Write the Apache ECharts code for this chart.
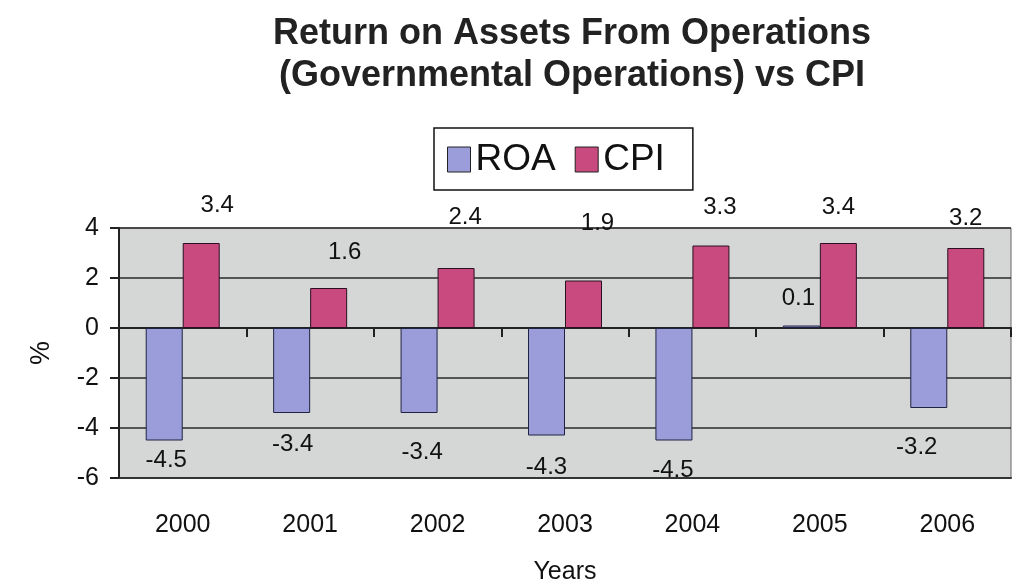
<!DOCTYPE html>
<html>
<head>
<meta charset="utf-8">
<script src="https://cdn.jsdelivr.net/npm/echarts@6/dist/echarts.min.js"></script>
<style>
  html, body { margin: 0; padding: 0; background: #fff; }
  #chart { width: 1019px; height: 586px; }
</style>
</head>
<body>
<div id="chart"></div>
<script>
const years = ['2000', '2001', '2002', '2003', '2004', '2005', '2006']
const roa = [-4.5, -3.4, -3.4, -4.3, -4.5, 0.1, -3.2]
const cpi = [3.4, 1.6, 2.4, 1.9, 3.3, 3.4, 3.2]

// label nudges, the labels were dragged around by hand in the original
const roaLabelPos = [
  { position: 'bottom', offset: [2, 8] },
  { position: 'bottom', offset: [1, 20] },
  { position: 'bottom', offset: [3, 28] },
  { position: 'bottom', offset: [0, 20] },
  { position: 'bottom', offset: [-1, 18] },
  { position: 'bottom', offset: [-3, -41] },
  { position: 'bottom', offset: [-12, 28] }
]
const cpiLabelPos = [
  { offset: [16, -26] },
  { offset: [16, -24] },
  { offset: [9, -39] },
  { offset: [14, -46] },
  { offset: [9, -27] },
  { offset: [0, -24] },
  { offset: [0, -18] }
]

const font = 'Liberation Sans, Arial, sans-serif'
const chart = echarts.init(document.getElementById('chart'))

chart.setOption({
  animation: false,
  textStyle: { fontFamily: font },
  title: {
    text: 'Return on Assets From Operations\n(Governmental Operations) vs CPI',
    left: 572,
    textAlign: 'center',
    top: 13,
    padding: 0,
    textStyle: {
      fontFamily: font,
      fontSize: 36,
      fontWeight: 'bold',
      lineHeight: 42,
      color: '#222'
    }
  },
  legend: {
    left: 434,
    top: 128,
    padding: [13, 28, 12, 13],
    borderColor: '#111',
    borderWidth: 1.5,
    itemWidth: 23,
    itemHeight: 25,
    itemGap: 19,
    icon: 'rect',
    textStyle: { fontSize: 37, lineHeight: 35, color: '#111' },
    itemStyle: { borderColor: '#222', borderWidth: 1 }
  },
  grid: {
    left: 119,
    right: 8,
    top: 228,
    bottom: 108,
    show: true,
    backgroundColor: '#d4d7d5',
    borderColor: '#666',
    borderWidth: 1
  },
  xAxis: [
    {
      type: 'category',
      data: years,
      position: 'top',
      axisLine: { onZero: true, lineStyle: { color: '#222', width: 2 } },
      axisTick: { show: true, inside: true, length: 9, lineStyle: { color: '#222', width: 2 } },
      axisLabel: { show: false }
    },
    {
      type: 'category',
      data: years,
      position: 'bottom',
      axisLine: { onZero: false, lineStyle: { color: '#333', width: 2 } },
      axisTick: { show: false },
      axisLabel: { margin: 35, fontSize: 25, color: '#111' },
      name: 'Years',
      nameLocation: 'middle',
      nameGap: 82,
      nameTextStyle: { fontSize: 25, color: '#111' }
    }
  ],
  yAxis: {
    type: 'value',
    min: -6,
    max: 4,
    interval: 2,
    axisLine: { show: true, lineStyle: { color: '#222', width: 2 } },
    axisTick: { show: true, length: 9, lineStyle: { color: '#222', width: 2 } },
    axisLabel: { margin: 20, fontSize: 25, color: '#111' },
    splitLine: { show: true, lineStyle: { color: '#2a2a2a', width: 1.5 } },
    name: '%',
    nameLocation: 'middle',
    nameRotate: 90,
    nameGap: 64,
    nameTextStyle: { fontSize: 27, color: '#111' }
  },
  series: [
    {
      name: 'ROA',
      type: 'bar',
      xAxisIndex: 0,
      barWidth: 37,
      barGap: '0%',
      itemStyle: { color: '#9a9dda', borderColor: '#1f2340', borderWidth: 1 },
      label: { show: true, distance: 0, fontSize: 24, lineHeight: 23, color: '#111' },
      data: roa.map((v, i) => ({ value: v, label: roaLabelPos[i] }))
    },
    {
      name: 'CPI',
      type: 'bar',
      xAxisIndex: 0,
      barWidth: 37,
      barGap: '0%',
      itemStyle: { color: '#c84a7e', borderColor: '#2a1020', borderWidth: 1 },
      label: { show: true, position: 'top', distance: 0, fontSize: 24, lineHeight: 23, color: '#111' },
      data: cpi.map((v, i) => ({ value: v, label: cpiLabelPos[i] }))
    }
  ]
})
</script>
</body>
</html>
